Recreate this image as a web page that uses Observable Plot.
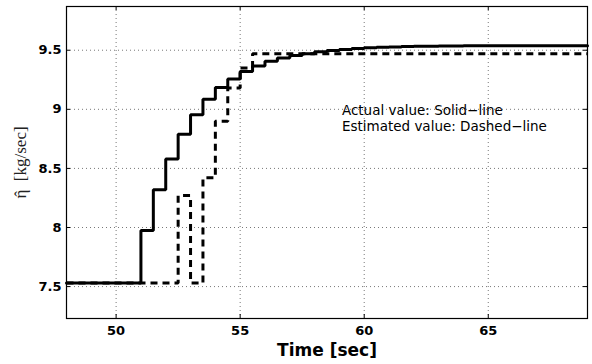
<!DOCTYPE html>
<html><head><meta charset="utf-8">
<script src="https://cdn.jsdelivr.net/npm/d3@7"></script>
<script src="https://cdn.jsdelivr.net/npm/@observablehq/plot@0.6"></script>
<style>body{margin:0;background:#fff}</style>
</head><body><div id="chart"></div>
<script>
const actualTime  = [48, 51, 51.5, 52, 52.5, 53, 53.5, 54, 54.5, 55, 55.5, 56, 56.5, 57, 57.5, 58, 58.5, 59, 59.5, 60, 60.5, 61, 61.5, 62, 63, 64, 69];
const actualValue = [7.53, 7.975, 8.32, 8.58, 8.79, 8.955, 9.085, 9.184, 9.257, 9.32, 9.367, 9.407, 9.435, 9.455, 9.47, 9.487, 9.498, 9.507, 9.514, 9.52, 9.525, 9.528, 9.531, 9.533, 9.536, 9.538, 9.538];
const estTime  = [48, 52.5, 53, 53.5, 54, 54.5, 55, 55.5, 69];
const estValue = [7.53, 8.27, 7.53, 8.42, 8.9, 9.18, 9.35, 9.47, 9.47];
const xTicks = [50, 55, 60, 65];
const yTicks = [7.5, 8, 8.5, 9, 9.5];
const xDomain = [48, 69];
const yDomain = [7.23, 9.87];
const xLabel = "Time [sec]";
const yLabelSymbol = "η";
const yLabelHat = "\u02C6";
const yLabelUnit = "\u2002[kg/sec]";
const yLabel = yLabelSymbol + yLabelHat + yLabelUnit;
const noteLines = ["Actual value: Solid\u2212line", "Estimated value: Dashed\u2212line"];
const noteX = 59.1;
const noteY = [8.955, 8.82];

const actual = actualTime.map((t, i) => ({t, v: actualValue[i]}));
const est = estTime.map((t, i) => ({t, v: estValue[i]}));
const notes = noteLines.map((s, i) => ({s, x: noteX, y: noteY[i]}));

const W = 592, H = 364, mL = 66, mR = 5, mT = 6, mB = 46;
const pw = W - mL - mR, ph = H - mT - mB;

const chart = Plot.plot({
  width: W, height: H,
  marginLeft: mL, marginRight: mR, marginTop: mT, marginBottom: mB,
  style: {fontSize: "13px", color: "black", background: "white"},
  x: {domain: xDomain},
  y: {domain: yDomain},
  marks: [
    Plot.gridX(xTicks, {stroke: "#555", strokeOpacity: 1, strokeWidth: 0.8, strokeDasharray: "1,3"}),
    Plot.gridY(yTicks, {stroke: "#555", strokeOpacity: 1, strokeWidth: 0.8, strokeDasharray: "1,3"}),
    Plot.ruleX(xTicks, {insetTop: ph - 4, stroke: "black"}),
    Plot.ruleX(xTicks, {insetBottom: ph - 4, stroke: "black"}),
    Plot.ruleY(yTicks, {insetRight: pw - 4, stroke: "black"}),
    Plot.ruleY(yTicks, {insetLeft: pw - 4, stroke: "black"}),
    Plot.axisX({ticks: xTicks, tickSize: 0, tickPadding: 7, label: null, tickFormat: d => String(d), fontFamily: "DejaVu Sans", fontWeight: "bold"}),
    Plot.axisY({ticks: yTicks, tickSize: 0, tickPadding: 5, label: null, tickFormat: d => String(d), fontFamily: "DejaVu Sans", fontWeight: "bold"}),
    Plot.line(est, {x: "t", y: "v", curve: "step-after", stroke: "black", strokeWidth: 3, strokeDasharray: "7,5", strokeLinejoin: "miter", strokeLinecap: "butt"}),
    Plot.line(actual, {x: "t", y: "v", curve: "step-after", stroke: "black", strokeWidth: 3, strokeLinejoin: "miter"}),
    Plot.text(notes, {x: "x", y: "y", text: "s", textAnchor: "start", lineAnchor: "bottom", fontFamily: "DejaVu Sans", fontWeight: "normal", fontSize: 13.5}),
    Plot.text([xLabel], {frameAnchor: "bottom", dy: 37, lineAnchor: "bottom", fontSize: 17, fontWeight: "bold", fontFamily: "DejaVu Sans"}),
    Plot.text([yLabel], {frameAnchor: "left", dx: -46, rotate: -90, textAnchor: "middle", fontWeight: "normal", fontSize: 17, fill: "#222", fontFamily: "Liberation Serif, DejaVu Serif, serif"}),
    Plot.frame({stroke: "black", strokeWidth: 1.2})
  ]
});
// split the y label into tspans so the hat sits over the eta
d3.select(chart).selectAll("text")
  .filter(function() { return this.textContent === yLabel; })
  .each(function() {
    const t = d3.select(this);
    t.text(null);
    t.append("tspan").text(yLabelSymbol);
    t.append("tspan").attr("dx", "-0.42em").attr("dy", "0.02em").text(yLabelHat);
    t.append("tspan").attr("dx", "0.09em").attr("dy", "-0.02em").text(yLabelUnit);
  });
document.getElementById("chart").append(chart);
</script>
</body></html>
